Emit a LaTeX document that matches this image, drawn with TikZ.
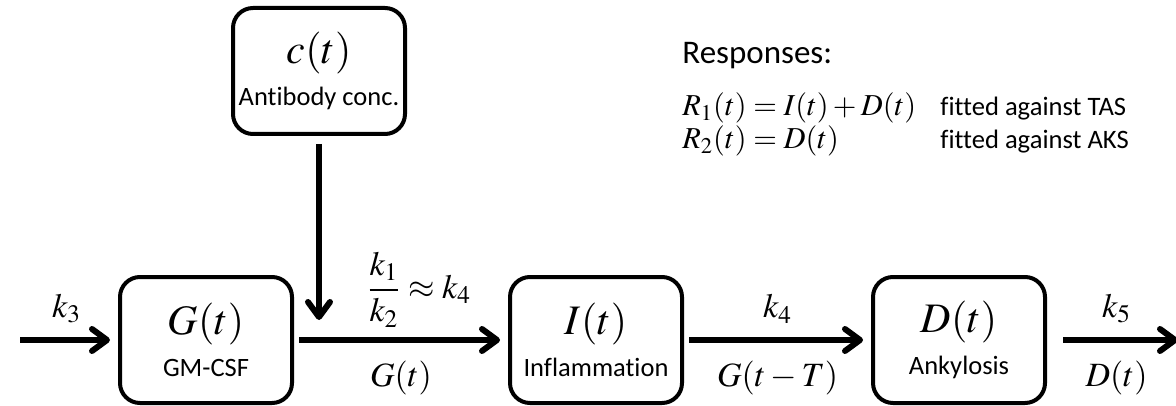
\documentclass[tikz,border=0pt]{standalone}
\usepackage{amsmath}
\usepackage{mathptmx}
\usepackage[no-math]{fontspec}
\setmainfont{Carlito}[Ligatures=NoCommon]
\usetikzlibrary{arrows.meta, positioning}
\newcommand{\varsize}{\fontsize{21}{21}\selectfont}
\newcommand{\boxsize}{\fontsize{13.25}{21}\selectfont}
\newcommand{\lblsize}{\fontsize{17}{19}\selectfont}
\newcommand{\respsize}{\fontsize{16.5}{19}\selectfont}
\newcommand{\fitsize}{\fontsize{13.3}{17}\selectfont}
\newcommand{\eqsize}{\fontsize{15.2}{18}\selectfont}
\tikzset{
  blk/.style  = {rectangle, rounded corners=10pt, draw=black, line width=2pt,
                 minimum width=86pt, minimum height=63pt, align=center,
                 font=\boxsize, inner sep=1pt},
  fl/.style   = {-{Straight Barb[length=7.5pt, width=11pt, round]}, line width=3pt,
                 draw=black, shorten <=2.5pt, shorten >=4pt},
  lbl/.style  = {font=\lblsize, inner sep=1pt},
  txt/.style  = {anchor=base west, inner sep=0pt},
}

\begin{document}
\begin{tikzpicture}[x=0.5pt, y=-0.5pt, node distance=107pt]
  \useasboundingbox (0,0) rectangle (1176,406);

  % compartments
  \node[blk] (gmc) at (206,340)      {{\varsize$G(t)$}\\GM-CSF};
  \node[blk, right=107pt of gmc] (inf) {{\varsize$I(t)$}\\Inflammation};
  \node[blk, right=93.5pt of inf] (ank) {{\varsize$D(t)$}\\Ankylosis};
  \node[blk] (ab) at (319,71)        {{\varsize$c(t)$}\\Antibody conc.};

  \coordinate (src)  at (15,340);
  \coordinate (sink) at (1186,340);
  \coordinate (join) at (ab.south |- gmc.east);

  % fluxes
  \draw[fl] (src) -- node[lbl, above=6pt]{$k_3$} (gmc);
  \draw[fl] (gmc) -- node[lbl, above=4pt, xshift=9pt]{$\displaystyle\frac{k_1}{k_2}\approx k_4$}
                     node[lbl, below=8pt]{$G(t)$} (inf);
  \draw[fl] (inf) -- node[lbl, above=6pt]{$k_4$}
                     node[lbl, below=8pt]{$G(t-T)$} (ank);
  \draw[fl, shorten <=8pt] (ank) -- node[lbl, above=6pt]{$k_5$}
                     node[lbl, below=8pt]{$D(t)$} (sink);
  \draw[fl, shorten <=4pt, shorten >=10pt] (ab) -- (join);

  % responses
  \node[txt, font=\respsize] (resp)   at (682,64)  {Responses:};
  \node[txt, font=\eqsize]   (rone)   at (682,116) {$R_1(t)=I(t)+D(t)$};
  \node[txt, font=\eqsize]   (rtwo)   at (682,149) {$R_2(t)=D(t)$};
  \node[txt, font=\fitsize]  (fitone) at (940,116) {fitted against TAS};
  \node[txt, font=\fitsize]  (fittwo) at (940,149) {fitted against AKS};
\end{tikzpicture}
\end{document}
